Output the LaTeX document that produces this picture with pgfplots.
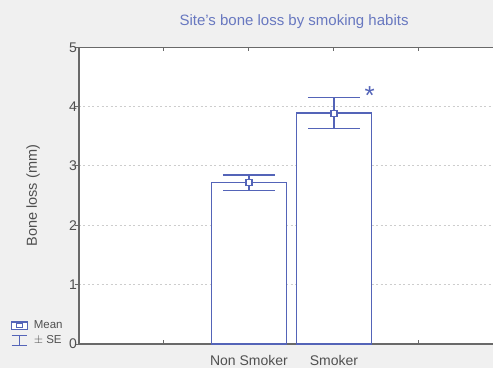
\documentclass[border=0pt]{standalone}
\usepackage{pgfplots}
\pgfplotsset{compat=1.18}
\usepackage{fontspec}
\setmainfont{Liberation Sans}

\definecolor{barblue}{RGB}{84,100,184}
\definecolor{titleblue}{RGB}{104,120,192}
\definecolor{bggray}{RGB}{240,240,240}
\definecolor{axisgray}{RGB}{105,105,105}
\definecolor{labelgray}{RGB}{80,80,80}
\definecolor{gridgray}{RGB}{205,205,205}

\begin{document}
\begin{tikzpicture}[x=1pt,y=1pt]
\useasboundingbox (0,0) rectangle (493,368);
\clip (0,0) rectangle (493,368);
\fill[bggray] (0,0) rectangle (493,368);
\begin{axis}[
  at={(79pt,24pt)}, anchor=south west,
  scale only axis, width=425pt, height=296.7pt,
  xmin=0, xmax=5, ymin=0, ymax=5,
  axis background/.style={fill=white},
  axis line style={axisgray, line width=1.2pt},
  xtick={1,2,3,4}, xticklabels={,Non Smoker,Smoker,},
  ytick={0,1,2,3,4,5},
  xtick pos=both, ytick pos=left,
  tick align=inside, major tick length=4pt,
  tick style={axisgray, line width=1pt},
  ytick style={xshift=-4pt},
  ymajorgrids,
  grid style={gridgray, line width=1pt, dash pattern=on 2pt off 2.5pt},
  ticklabel style={text=labelgray, font=\fontsize{14}{14}\selectfont},
  xticklabel style={yshift=-8pt},
  yticklabel style={inner sep=2pt},
  /pgf/number format/assume math mode=true,
  ylabel={Bone loss (mm)},
  ylabel style={at={(axis description cs:-0.108,0.5)}, anchor=center,
    text=labelgray, font=\fontsize{14.5}{14.5}\selectfont},
  title={Site's bone loss by smoking habits},
  title style={at={(axis description cs:0.506,1.068)}, anchor=center,
    text=titleblue, font=\fontsize{15}{15}\selectfont},
  legend style={draw=none, fill=none, at={(axis description cs:-0.16,-0.012)},
    anchor=south west, inner sep=0pt, row sep=1.5pt, column sep=4pt,
    font=\fontsize{11.5}{11.5}\selectfont, text=labelgray},
  legend cell align=left,
]
% group means as open bars
\addplot[ybar, bar width=0.88, fill=white, draw=barblue, line width=1.5pt, forget plot]
  coordinates {(2,2.72) (3,3.89)};
% means with standard-error whiskers
\addplot[barblue, only marks, mark=square*, mark size=3pt,
  mark options={fill=white, line width=1.1pt}, forget plot,
  error bars/.cd, y dir=both, y explicit, error mark=|,
  error bar style={line width=1.4pt, barblue},
  error mark options={barblue, line width=1.4pt, mark size=26pt}]
  table[x=x, y=y, y error=e] {
x y e
2 2.72 0.13
3 3.89 0.26
};
\node[text=barblue, font=\fontsize{26}{26}\selectfont, anchor=base]
  at (axis cs:3.42,4.03) {*};
\addlegendimage{legend image code/.code={
  \draw[barblue, line width=1.1pt, fill=white] (0pt,-3.6pt) rectangle (15.5pt,3.6pt);
  \draw[barblue, line width=1.1pt] (5pt,-2pt) rectangle (10.5pt,2pt);}}
\addlegendentry{Mean}
\addlegendimage{legend image code/.code={
  \draw[barblue, line width=1.1pt] (0pt,5pt) -- (15.5pt,5pt)
    (7.75pt,5pt) -- (7.75pt,-5pt) (0pt,-5pt) -- (15.5pt,-5pt);}}
\addlegendentry{$\pm$ SE}
\end{axis}
\end{tikzpicture}
\end{document}
